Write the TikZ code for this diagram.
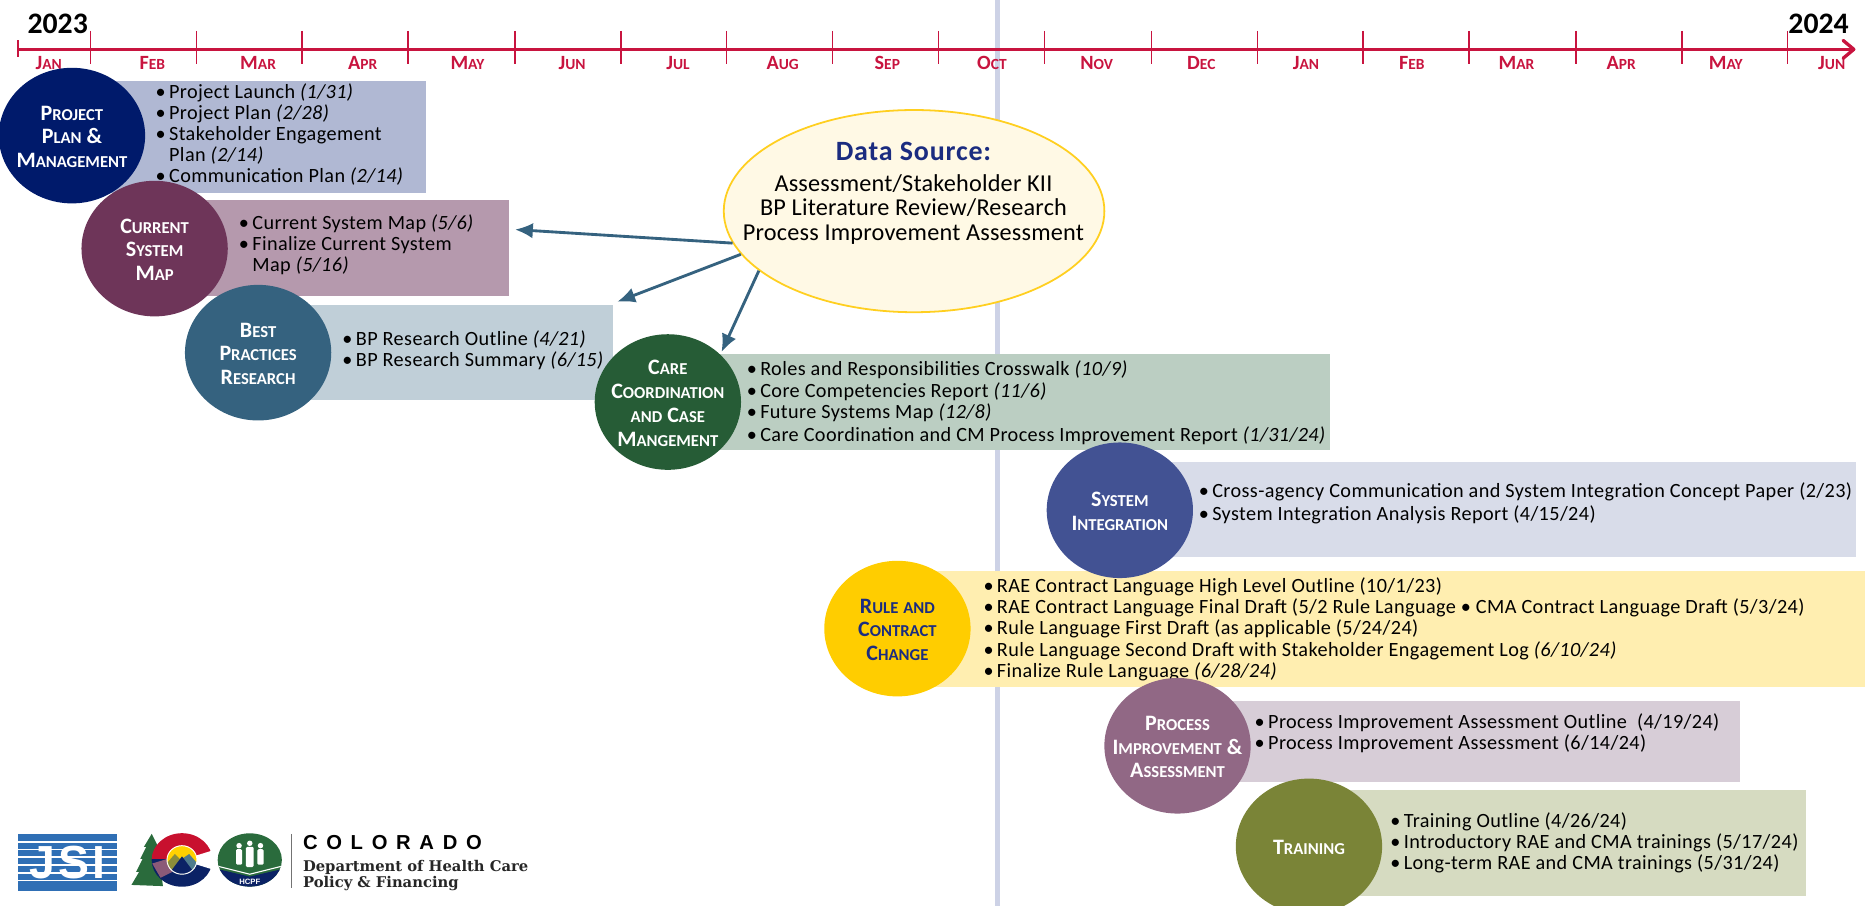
\documentclass[tikz,border=0pt]{standalone}
\usepackage{fontspec}
\setmainfont{Carlito}
\newfontfamily\itemfont[LetterSpace=2]{Carlito}
\newfontfamily\srcfont[LetterSpace=0.8]{Carlito}
\newfontfamily\headfont[LetterSpace=3]{Carlito}
\newfontfamily\slabfont{DejaVu Serif}
\newfontfamily\logofont{Liberation Sans}
\usetikzlibrary{shapes.geometric,arrows.meta}
\definecolor{crim}{HTML}{C8143F}
\definecolor{band}{HTML}{CDD2E6}
\definecolor{arrowc}{HTML}{35627F}
\definecolor{b1}{HTML}{B0B8D3}\definecolor{c1}{HTML}{001A6B}
\definecolor{b2}{HTML}{B599AD}\definecolor{c2}{HTML}{6E3559}
\definecolor{b3}{HTML}{C0CFD8}\definecolor{c3}{HTML}{35627F}
\definecolor{b4}{HTML}{BBCEC2}\definecolor{c4}{HTML}{265C36}
\definecolor{b5}{HTML}{D8DCE9}\definecolor{c5}{HTML}{425293}
\definecolor{b6}{HTML}{FFEEB0}\definecolor{c6}{HTML}{FFCD00}
\definecolor{b7}{HTML}{D7CDD7}\definecolor{c7}{HTML}{916885}
\definecolor{b8}{HTML}{D6DBC1}\definecolor{c8}{HTML}{7A8437}
\definecolor{dsfill}{HTML}{FFF9E5}\definecolor{dsedge}{HTML}{FFCF20}
\definecolor{dsnavy}{HTML}{1B2C80}
\definecolor{jsiblue}{HTML}{2F6FB5}
\definecolor{cored}{HTML}{C8102E}\definecolor{conavy}{HTML}{0B2265}
\definecolor{cogreen}{HTML}{2A6B3C}\definecolor{cogold}{HTML}{FFD100}
\definecolor{coolive}{HTML}{8A8D3A}\definecolor{coteal}{HTML}{4F7C8C}
\definecolor{comauve}{HTML}{8B5A78}
\newcommand\smc[2]{{\fontsize{18.5}{20}\selectfont #1}{\fontsize{14}{20}\selectfont #2}}
\newcommand\mon[2]{{\fontsize{17}{18}\selectfont #1}{\fontsize{13}{18}\selectfont #2}}
\newcommand\B{\makebox[9.5pt][l]{\hspace{-1.8pt}\textbullet}}
\newcommand\I{\hspace*{9.5pt}}
\tikzset{
  panel/.style={draw=none,rectangle,anchor=north west,inner sep=0pt},
  items/.style={anchor=north west,inner sep=0pt,align=left,font=\itemfont\fontsize{17}{17.8}\selectfont,text=black},
  disc/.style={draw=none,ellipse,inner sep=0pt,minimum width=123pt,minimum height=114pt},
  disctext/.style={inner sep=0pt,yshift=-1pt,align=center,font=\bfseries\fontsize{18.5}{20}\selectfont},
  month/.style={inner sep=0pt,text=crim,font=\bfseries},
  flow/.style={draw=arrowc,line width=2.4pt,-{Latex[length=15pt,width=13pt]}},
  ytext/.style={inner sep=0pt,font=\bfseries\fontsize{25}{26}\selectfont}
}
\begin{document}
\begin{tikzpicture}[x=1pt,y=-1pt]
\useasboundingbox (0,0) rectangle (1568,761.7);
% vertical marker
\fill[band] (836.3,0) rectangle (840.8,761.7);
% timeline
\draw[crim,line width=2.8pt,-{Straight Barb[length=9pt,width=15pt,line width=2.8pt,round]}] (15,41.5) -- (1560,41.5);
\draw[crim,line width=1.6pt] (15.5,34) -- (15.5,48);
\foreach \t in {76,165,254,343,433,522,611,700,789,878,968,1057,1146,1235,1325,1414,1503}
  \draw[crim,line width=1.2pt] (\t,26) -- (\t,54);
\node[month] (m1) at (41,53) {\mon{J}{AN}};
\node[month] (m2) at (128,53) {\mon{F}{EB}};
\node[month] (m3) at (217,53) {\mon{M}{AR}};
\node[month] (m4) at (305,53) {\mon{A}{PR}};
\node[month] (m5) at (393,53) {\mon{M}{AY}};
\node[month] (m6) at (481,53) {\mon{J}{UN}};
\node[month] (m7) at (570,53) {\mon{J}{UL}};
\node[month] (m8) at (658,53) {\mon{A}{UG}};
\node[month] (m9) at (746,53) {\mon{S}{EP}};
\node[month] (m10) at (834,53) {\mon{O}{CT}};
\node[month] (m11) at (922,53) {\mon{N}{OV}};
\node[month] (m12) at (1010,53) {\mon{D}{EC}};
\node[month] (m13) at (1098,53) {\mon{J}{AN}};
\node[month] (m14) at (1187,53) {\mon{F}{EB}};
\node[month] (m15) at (1275,53) {\mon{M}{AR}};
\node[month] (m16) at (1363,53) {\mon{A}{PR}};
\node[month] (m17) at (1451,53) {\mon{M}{AY}};
\node[month] (m18) at (1540,53) {\mon{J}{UN}};
\node[ytext] (y1) at (48.5,20) {2023};
\node[ytext] (y2) at (1529,20) {2024};
% panels
\node[panel,fill=b1,minimum width=298pt,minimum height=94pt] (p1) at (60,68) {};
\node[panel,fill=b2,minimum width=298pt,minimum height=81pt] (p2) at (130,168) {};
\node[panel,fill=b3,minimum width=298pt,minimum height=80pt] (p3) at (217,256) {};
\node[panel,fill=b4,minimum width=556pt,minimum height=81pt] (p4) at (562,297.5) {};
\node[panel,fill=b5,minimum width=618pt,minimum height=80pt] (p5) at (942,388.5) {};
\node[panel,fill=b6,minimum width=814pt,minimum height=97.5pt] (p6) at (754,480) {};
\node[panel,fill=b7,minimum width=473pt,minimum height=68pt] (p7) at (990,589) {};
\node[panel,fill=b8,minimum width=418pt,minimum height=89pt] (p8) at (1100,664) {};
% item lists
\node[items] (t1) at (132.5,70) {\B Project Launch \textit{(1/31)}\\\B Project Plan \textit{(2/28)}\\\B Stakeholder Engagement\\\I Plan \textit{(2/14)}\\\B Communication Plan \textit{(2/14)}};
\node[items] (t2) at (202.5,180) {\B Current System Map \textit{(5/6)}\\\B Finalize Current System\\\I Map \textit{(5/16)}};
\node[items] (t3) at (289.5,277.5) {\B BP Research Outline \textit{(4/21)}\\\B BP Research Summary \textit{(6/15)}};
\node[items] (t4) at (629.5,303.5) {\B Roles and Responsibilities Crosswalk \textit{(10/9)}\\\B Core Competencies Report \textit{(11/6)}\\\B Future Systems Map \textit{(12/8)}\\[1.5pt]\B Care Coordination and CM Process Improvement Report \textit{(1/31/24)}};
\node[items] (t5) at (1009.5,406) {\B Cross-agency Communication and System Integration Concept Paper (2/23)\\[1pt]\B System Integration Analysis Report (4/15/24)};
\node[items] (t6) at (828.5,485.5) {\B RAE Contract Language High Level Outline (10/1/23)\\\B RAE Contract Language Final Draft (5/2 Rule Language \textbullet{} CMA Contract Language Draft (5/3/24)\\\B Rule Language First Draft (as applicable (5/24/24)\\\B Rule Language Second Draft with Stakeholder Engagement Log \textit{(6/10/24)}\\\B Finalize Rule Language \textit{(6/28/24)}};
\node[items] (t7) at (1056.5,600) {\B Process Improvement Assessment Outline\ \ (4/19/24)\\\B Process Improvement Assessment (6/14/24)};
\node[items] (t8) at (1170.5,683) {\B Training Outline (4/26/24)\\\B Introductory RAE and CMA trainings (5/17/24)\\\B Long-term RAE and CMA trainings (5/31/24)};
% discs
\node[disc,fill=c1] (d1) at (60.5,114) {};
\node[disctext,text=white] (l1) at (d1) {\smc{P}{ROJECT}\\\smc{P}{LAN} \&\\\smc{M}{ANAGEMENT}};
\node[disc,fill=c2] (d2) at (130,209) {};
\node[disctext,text=white] (l2) at (d2) {\smc{C}{URRENT}\\\smc{S}{YSTEM}\\\smc{M}{AP}};
\node[disc,fill=c3] (d3) at (217,296.5) {};
\node[disctext,text=white] (l3) at (d3) {\smc{B}{EST}\\\smc{P}{RACTICES}\\\smc{R}{ESEARCH}};
\node[disc,fill=c4] (d4) at (561.5,338) {};
\node[disctext,text=white] (l4) at (d4) {\smc{C}{ARE}\\\smc{C}{OORDINATION}\\\smc{}{AND} \smc{C}{ASE}\\\smc{M}{ANGEMENT}};
\node[disc,fill=c5] (d5) at (941.5,429) {};
\node[disctext,text=white] (l5) at (d5) {\smc{S}{YSTEM}\\\smc{I}{NTEGRATION}};
\node[disc,fill=c6] (d6) at (754.5,528.5) {};
\node[disctext,text=dsnavy] (l6) at (d6) {\smc{R}{ULE} \smc{}{AND}\\\smc{C}{ONTRACT}\\\smc{C}{HANGE}};
\node[disc,fill=c7] (d7) at (990,627) {};
\node[disctext,text=white] (l7) at (d7) {\smc{P}{ROCESS}\\\smc{I}{MPROVEMENT} \&\\\smc{A}{SSESSMENT}};
\node[disc,fill=c8] (d8) at (1100.5,711.6) {};
\node[disctext,text=white] (l8) at (d8) {\smc{T}{RAINING}};
% data source
\node[ellipse,draw=dsedge,fill=dsfill,line width=1.5pt,inner sep=0pt,minimum width=320pt,minimum height=170pt] (ds) at (768.5,177.5) {};
\node[inner sep=0pt,text=dsnavy,font=\headfont\bfseries\fontsize{23.5}{26}\selectfont] (dst) at (768,127) {Data Source:};
\node[inner sep=0pt,align=center,font=\srcfont\fontsize{20.4}{20.6}\selectfont] (dsl) at (768,176) {Assessment/Stakeholder KII\\BP Literature Review/Research\\Process Improvement Assessment};
% connectors
\coordinate (a1) at (433,193);
\coordinate (a2) at (519,253.7);
\coordinate (a3) at (606.6,296);
\draw[flow] (ds.190) -- (a1);
\draw[flow] (ds.194.4) -- (a2);
\draw[flow] (ds.201.3) -- (a3);
% JSI logo
\fill[jsiblue] (15,701) rectangle (98.5,749);
\foreach \s in {707,713.5,720,726.5,733,739.5}
  \fill[white] (15,\s) rectangle (98.5,\s+1.4);
\node[inner sep=0pt,text=white,font=\logofont\bfseries\fontsize{39}{39}\selectfont] (jsi) at (56.7,725) {J\hspace{2.5pt}S\hspace{2.5pt}I};
% Colorado logo
\fill[cogreen] (127.6,701) -- (133,712) -- (131,712) -- (136,722) -- (134,722) -- (137,745) -- (110.5,744)
  -- (117,733) -- (114.5,733) -- (120,722) -- (118,722) -- (123,712) -- (121,712) -- cycle;
\begin{scope}
  \clip (125,695) rectangle (185,723);
  \fill[cored] (153,723) ellipse [x radius=25.5pt,y radius=22.5pt];
\end{scope}
\begin{scope}
  \clip (125,723) rectangle (185,750);
  \fill[conavy] (153,723) ellipse [x radius=25.5pt,y radius=22.5pt];
\end{scope}
\fill[comauve] (128,726) -- (141,722) -- (145,733) -- (135,738) -- cycle;
\fill[white] (153,723) -- (182,714) -- (182,732) -- cycle;
\begin{scope}
  \clip (153,723) ellipse [x radius=12.6pt,y radius=12pt];
  \fill[cogold] (140,710) rectangle (166,736);
  \fill[coolive] (140,726) -- (147,718) -- (153,724) -- (153,736) -- (140,736) -- cycle;
  \fill[coteal] (153,722) -- (159,718) -- (166,726) -- (166,736) -- (153,736) -- cycle;
  \fill[conavy] (141,736) -- (153,720) -- (165,736) -- cycle;
\end{scope}
\draw[white,line width=0.8pt] (153,723) ellipse [x radius=12.6pt,y radius=12pt];
% HCPF seal
\begin{scope}
  \clip (210,723) ellipse [x radius=27pt,y radius=22.4pt];
  \fill[cogreen] (180,698) rectangle (240,750);
  \fill[conavy] (180,730) -- (210,737) -- (240,730) -- (240,750) -- (180,750) -- cycle;
  \draw[white,line width=0.9pt] (180,727.5) -- (210,735) -- (240,727.5);
\end{scope}
\foreach \px/\pt/\ps in {201/711/.8,210/709/1,219/711/.8}{
  \fill[white] (\px,\pt) circle [radius=2.3pt];
  \fill[white,rounded corners=1pt] (\px-3.2*\ps,\pt+3) rectangle (\px+3.2*\ps,\pt+20*\ps);
}
\node[inner sep=0pt,text=white,font=\logofont\bfseries\fontsize{6.5}{7}\selectfont] (hcpf) at (210,741) {HCPF};
\draw[black!55,line width=0.7pt] (244.7,701) -- (244.7,747);
\node[inner sep=0pt,anchor=west,font=\logofont\bfseries\fontsize{17}{17}\selectfont,text=black] (co) at (254.6,708) {C\hspace{7.3pt}O\hspace{7.3pt}L\hspace{7.3pt}O\hspace{7.3pt}R\hspace{7.3pt}A\hspace{7.3pt}D\hspace{7.3pt}O};
\node[inner sep=0pt,anchor=west,font=\slabfont\bfseries\fontsize{12.4}{14}\selectfont,text=black!85] (dep) at (254.6,729) {Department of Health Care};
\node[inner sep=0pt,anchor=west,font=\slabfont\bfseries\fontsize{12.4}{14}\selectfont,text=black!85] (pol) at (254.6,743) {Policy \& Financing};
\end{tikzpicture}
\end{document}
